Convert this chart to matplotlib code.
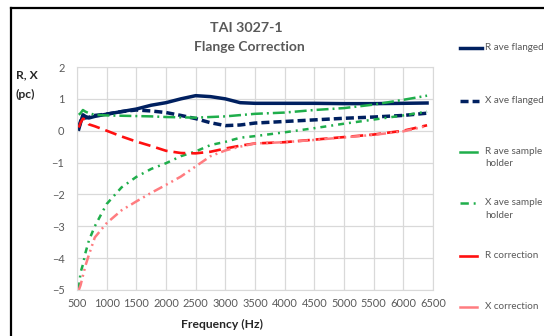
import numpy as np
import matplotlib
matplotlib.use("Agg")
import matplotlib.pyplot as plt
from matplotlib.lines import Line2D

plt.rcParams['font.family'] = ['Lato', 'DejaVu Sans']
plt.rcParams['lines.scale_dashes'] = False

# data
freq = [530, 560, 600, 640, 700, 800, 1000, 1250, 1500, 1750, 2000, 2250,
        2500, 2750, 3000, 3250, 3500, 4000, 4500, 5000, 5500, 6000, 6400]
r_flanged = [0.05, 0.25, 0.5, 0.45, 0.4, 0.45, 0.52, 0.6, 0.68, 0.8, 0.88, 1.0,
             1.1, 1.07, 1.0, 0.88, 0.86, 0.86, 0.86, 0.85, 0.85, 0.86, 0.87]
x_flanged = [0.1, 0.3, 0.45, 0.4, 0.42, 0.48, 0.52, 0.6, 0.65, 0.62, 0.57, 0.48,
             0.38, 0.25, 0.16, 0.18, 0.24, 0.29, 0.34, 0.39, 0.43, 0.48, 0.55]
r_holder = [0.5, 0.55, 0.65, 0.6, 0.55, 0.5, 0.48, 0.47, 0.46, 0.45, 0.43, 0.42,
            0.41, 0.43, 0.45, 0.49, 0.53, 0.57, 0.65, 0.71, 0.82, 0.97, 1.1]
x_holder = [-4.95, -4.45, -4.2, -3.85, -3.45, -3.0, -2.3, -1.78, -1.45, -1.2, -1.02, -0.8,
            -0.65, -0.45, -0.35, -0.22, -0.17, -0.05, 0.08, 0.22, 0.35, 0.48, 0.6]
r_corr = [0.1, 0.25, 0.38, 0.35, 0.2, 0.14, 0.0, -0.18, -0.34, -0.48, -0.63, -0.7,
          -0.71, -0.66, -0.56, -0.47, -0.4, -0.36, -0.28, -0.2, -0.12, 0.0, 0.17]
x_corr = [-5.0, -4.85, -4.55, -4.25, -3.9, -3.35, -2.9, -2.5, -2.22, -1.95, -1.7, -1.44,
          -1.12, -0.8, -0.62, -0.5, -0.4, -0.36, -0.29, -0.21, -0.13, -0.02, 0.15]

labels = ["R ave flanged", "X ave flanged", "R ave sample\nholder",
          "X ave sample\nholder", "R correction", "X correction"]
series = [r_flanged, x_flanged, r_holder, x_holder, r_corr, x_corr]

navy = "#002060"
green = "#1fae4b"
red = "#ff1010"
salmon = "#ff7c80"
styles = [
    dict(color=navy, lw=2.5, ls='-'),
    dict(color=navy, lw=2.5, ls=(0, (5.8, 2.9))),
    dict(color=green, lw=1.8, ls=(0, (8.6, 2.9, 1.4, 2.9))),
    dict(color=green, lw=1.8, ls=(0, (4.3, 3.6, 1.4, 3.6))),
    dict(color=red, lw=1.9, ls=(0, (8.6, 4.3))),
    dict(color=salmon, lw=1.8, ls=(0, (7, 3, 1.4, 3, 1.4, 3))),
]
# legend swatches are short, so most show just a single dash
leg_ls = ['-', (0, (5.8, 2.9)), '-', (0, (6, 3.5, 1.4, 3.6)), '-', '-']
leg_x1 = [482, 479, 477, 478, 477, 477]

W, H = 544, 336
fig = plt.figure(figsize=(W / 100, H / 100), dpi=100)
ax = fig.add_axes([77 / W, 1 - 290 / H, (433 - 77) / W, (290 - 67) / H])

for y, st in zip(series, styles):
    ax.plot(freq, y, **st)

ax.set_xlim(500, 6500)
ax.set_ylim(-5, 2)
ax.set_xticks(np.arange(500, 6501, 500))
ax.set_yticks(np.arange(-5, 3, 1))
ax.grid(True, color="#d9d9d9", lw=0.9)
ax.set_axisbelow(True)
for s in ax.spines.values():
    s.set_color("#d9d9d9")
ax.tick_params(length=0, labelsize=7.9, colors="#595959", pad=6)
ax.tick_params(axis='y', pad=9)

grey = "#595959"
fig.text(246 / W, 1 - 28 / H, "TAI 3027-1", ha='center', va='center',
         fontsize=10.3, fontweight='bold', color=grey)
fig.text(249 / W, 1 - 47 / H, "Flange Correction", ha='center', va='center',
         fontsize=10, fontweight='bold', color=grey)
fig.text(16 / W, 1 - 75 / H, "R, X", ha='left', va='center',
         fontsize=8.7, fontweight='bold', color="#262626")
fig.text(16 / W, 1 - 94 / H, "(pc)", ha='left', va='center',
         fontsize=8.7, fontweight='bold', color="#262626")
fig.text(222 / W, 1 - 324 / H, "Frequency (Hz)", ha='center', va='center',
         fontsize=8.7, fontweight='bold', color="#262626")

# legend drawn by hand
leg_y = [48, 101, 152, 203, 256, 307]
for lab, st, ls, x1, yy in zip(labels, styles, leg_ls, leg_x1, leg_y):
    yf = 1 - yy / H
    fig.add_artist(Line2D([460 / W, x1 / W], [yf, yf], transform=fig.transFigure,
                          color=st['color'], lw=st['lw'], ls=ls))
    fig.text(485 / W, yf + 5 / H, lab, ha='left', va='top', fontsize=7.1,
             color=grey, linespacing=1.5)

# outer frame of the chart
fig.add_artist(Line2D([11 / W, 11 / W], [0, 1 - 8 / H], transform=fig.transFigure,
                      color='black', lw=1.6))
fig.add_artist(Line2D([11 / W, 1], [1 - 8 / H, 1 - 8 / H], transform=fig.transFigure,
                      color='black', lw=1.6))

fig.savefig("out.png", dpi=100)
